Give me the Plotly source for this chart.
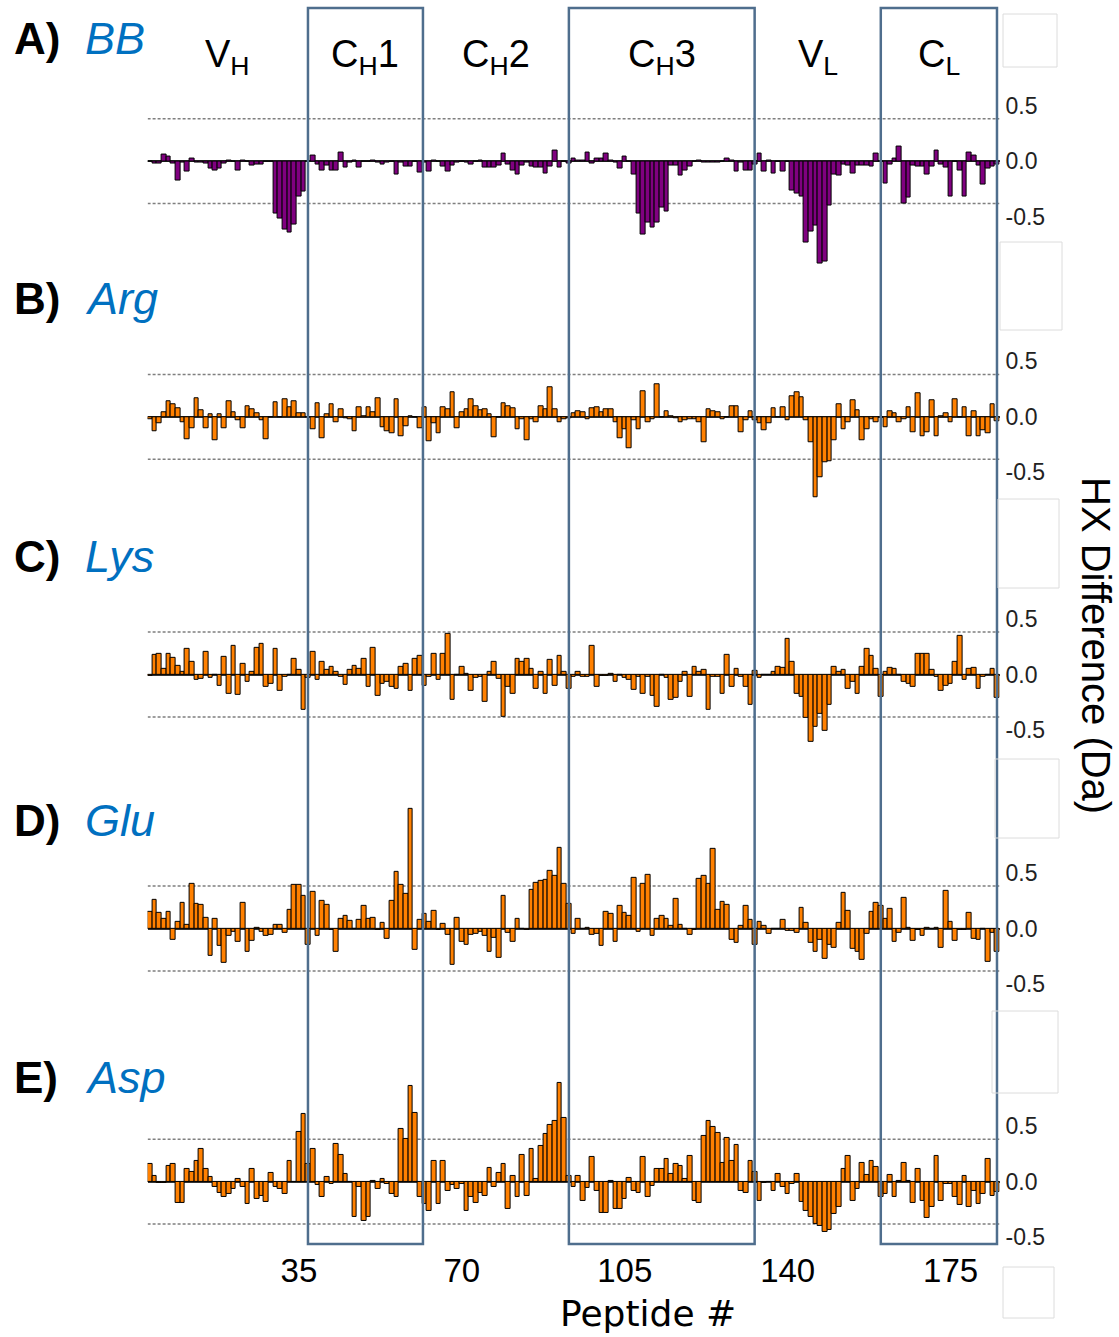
import plotly.graph_objects as go

# ---------------- data ----------------
FIRST_PEPTIDE = 3  # peptide number of the first bar; one value per peptide 3..185

BB = [
    0.0, -0.02, -0.02, 0.06, 0.04, -0.02, -0.17, -0.01, -0.09, 0.02,      # 3-12
    -0.01, -0.01, -0.02, -0.07, -0.08, -0.07, -0.02, 0.01, 0.0, -0.08,    # 13-22
    0.01, 0.0, -0.04, -0.03, -0.03, 0.0, 0.0, -0.47, -0.52, -0.62,        # 23-32
    -0.64, -0.57, -0.32, -0.27, 0.0, 0.05, -0.03, -0.08, -0.04, -0.08,    # 33-42
    -0.08, 0.075, -0.06, -0.01, 0.01, -0.06, 0.0, 0.0, 0.01, -0.01,       # 43-52
    -0.03, -0.01, 0.0, -0.12, -0.01, -0.05, -0.05, 0.0, -0.10, -0.01,     # 53-62
    -0.09, 0.01, 0.0, -0.05, -0.09, -0.04, -0.01, 0.0, -0.01, -0.03,      # 63-72
    0.0, 0.01, -0.06, -0.06, -0.06, -0.04, 0.07, -0.03, -0.08, -0.12,     # 73-82
    -0.04, -0.01, -0.05, -0.06, -0.06, -0.11, -0.05, 0.10, -0.06, 0.0,    # 83-92
    -0.02, 0.02, 0.01, 0.01, 0.08, -0.02, 0.02, 0.02, 0.07, 0.01,         # 93-102
    -0.01, -0.07, 0.04, 0.0, -0.12, -0.47, -0.66, -0.55, -0.60, -0.55,    # 103-112
    -0.42, -0.45, -0.04, -0.04, -0.13, -0.08, -0.05, 0.0, 0.01, -0.01,    # 113-122
    -0.01, -0.01, -0.01, 0.0, 0.02, 0.01, -0.09, -0.01, -0.08, -0.08,     # 123-132
    -0.03, 0.07, -0.09, 0.01, -0.11, 0.0, -0.09, 0.0, -0.26, -0.29,       # 133-142
    -0.32, -0.73, -0.63, -0.58, -0.92, -0.90, -0.40, -0.12, -0.13, -0.03, # 143-152
    -0.04, -0.11, -0.04, -0.04, -0.04, -0.05, 0.07, 0.0, -0.20, -0.03,    # 153-162
    0.02, 0.13, -0.38, -0.33, -0.04, -0.05, -0.05, -0.12, -0.05, 0.10,    # 163-172
    -0.03, -0.06, -0.32, 0.0, -0.08, -0.32, 0.08, 0.05, -0.04, -0.21,     # 173-182
    -0.07, -0.05, -0.03,                                                  # 183-185
]

ARG = [
    -0.02, -0.13, -0.06, 0.04, 0.14, 0.11, 0.08, -0.05, -0.20, -0.10,
    0.17, 0.06, -0.10, 0.02, -0.21, 0.02, -0.10, 0.14, 0.04, -0.03,
    -0.10, 0.10, 0.07, 0.03, -0.03, -0.20, 0.0, 0.13, 0.0, 0.16,
    0.09, 0.14, 0.03, 0.03, 0.0, -0.11, 0.12, -0.19, 0.02, 0.11,
    -0.05, 0.07, -0.01, -0.02, -0.13, 0.09, 0.01, 0.09, 0.04, 0.17,
    -0.09, -0.13, -0.15, 0.16, -0.17, -0.08, 0.01, 0.0, -0.10, 0.09,
    -0.22, -0.06, -0.15, 0.09, 0.07, 0.22, -0.10, 0.04, 0.07, 0.16,
    0.10, 0.06, 0.07, 0.02, -0.18, 0.0, 0.12, 0.10, 0.08, -0.11,
    -0.02, -0.21, -0.02, -0.05, 0.10, 0.07, 0.27, 0.07, -0.05, -0.02,
    -0.01, 0.03, 0.05, 0.04, -0.02, 0.08, 0.09, 0.04, 0.07, 0.07,
    -0.05, -0.19, -0.11, -0.28, -0.03, -0.11, 0.23, -0.05, -0.02, 0.29,
    0.0, 0.05, 0.01, -0.01, -0.05, -0.03, -0.02, -0.02, -0.05, -0.23,
    0.07, 0.05, 0.04, -0.02, 0.0, 0.10, 0.10, -0.14, -0.03, 0.05,
    -0.03, -0.06, -0.12, -0.06, 0.08, 0.0, 0.09, -0.03, 0.19, 0.22,
    0.18, -0.03, -0.23, -0.72, -0.54, -0.41, -0.40, -0.21, 0.11, -0.11,
    -0.05, 0.15, 0.06, -0.21, -0.11, -0.02, -0.05, 0.0, -0.09, 0.05,
    0.03, -0.05, -0.02, 0.09, -0.14, 0.21, -0.17, -0.14, 0.15, -0.17,
    0.01, 0.03, -0.05, 0.16, 0.0, 0.09, -0.17, 0.05, -0.17, -0.12,
    -0.15, 0.11, -0.04,
]

LYS = [
    -0.01, 0.18, 0.19, 0.05, 0.19, 0.15, 0.08, 0.02, 0.23, 0.11,
    -0.05, -0.04, 0.20, -0.03, 0.0, -0.10, 0.16, -0.17, 0.26, -0.18,
    0.10, -0.07, 0.02, 0.24, 0.28, -0.11, -0.08, 0.23, -0.15, -0.02,
    0.0, 0.14, 0.04, -0.32, -0.03, 0.20, -0.05, 0.11, 0.04, 0.07,
    0.02, -0.02, -0.09, 0.04, 0.08, 0.05, 0.14, -0.11, 0.24, -0.19,
    -0.08, -0.07, -0.11, -0.13, 0.07, 0.10, -0.15, 0.14, 0.17, -0.10,
    -0.02, 0.19, -0.05, 0.19, 0.37, -0.23, 0.0, 0.07, 0.01, -0.15,
    -0.03, -0.02, -0.25, 0.02, 0.11, -0.04, -0.38, -0.11, -0.17, 0.14,
    0.11, 0.14, 0.05, -0.13, 0.02, -0.17, 0.13, -0.10, 0.17, 0.02,
    -0.13, -0.02, 0.02, -0.02, -0.02, 0.26, -0.11, -0.01, -0.01, 0.01,
    -0.07, 0.0, -0.03, -0.05, -0.14, -0.02, -0.17, -0.02, -0.19, -0.29,
    0.0, -0.03, -0.23, -0.21, -0.07, 0.02, -0.20, 0.07, 0.02, 0.04,
    -0.32, -0.02, -0.02, -0.17, 0.18, -0.11, 0.05, -0.02, -0.11, -0.27,
    0.03, -0.03, 0.0, 0.0, 0.02, 0.07, 0.06, 0.32, 0.11, -0.17,
    -0.20, -0.39, -0.61, -0.47, -0.35, -0.51, -0.27, 0.07, 0.02, 0.04,
    -0.13, -0.07, -0.17, 0.07, 0.23, 0.17, 0.05, -0.20, 0.02, 0.06,
    0.05, 0.0, -0.07, -0.08, -0.11, 0.19, 0.19, 0.19, 0.04, -0.02,
    -0.15, -0.10, -0.08, 0.11, 0.35, -0.05, 0.05, 0.06, -0.13, -0.02,
    0.0, 0.05, -0.21,
]

GLU = [
    0.15, 0.26, 0.14, 0.09, 0.15, -0.10, 0.06, 0.23, 0.03, 0.40,
    0.22, 0.21, 0.10, -0.25, 0.09, -0.16, -0.31, -0.07, -0.03, -0.12,
    0.23, -0.21, -0.11, 0.01, -0.03, -0.07, -0.06, 0.03, 0.03, -0.04,
    0.17, 0.39, 0.39, 0.29, -0.15, 0.33, -0.07, 0.25, 0.21, -0.01,
    -0.21, 0.09, 0.11, 0.07, 0.0, 0.08, 0.20, 0.09, 0.10, -0.01,
    0.05, -0.09, 0.25, 0.51, 0.39, 0.31, 1.08, -0.19, 0.08, 0.13,
    0.06, 0.16, -0.01, 0.04, -0.06, -0.33, 0.10, -0.12, -0.15, -0.06,
    -0.05, -0.03, -0.07, -0.21, -0.08, -0.26, 0.29, -0.04, -0.12, 0.09,
    0.0, -0.01, 0.35, 0.41, 0.43, 0.44, 0.52, 0.47, 0.73, 0.40,
    0.22, -0.05, 0.09, 0.0, 0.01, -0.06, -0.05, -0.16, 0.15, 0.13,
    -0.12, 0.20, 0.14, 0.11, 0.46, -0.03, 0.40, 0.48, -0.07, 0.09,
    0.11, 0.09, 0.02, 0.27, 0.03, 0.0, -0.06, -0.01, 0.45, 0.47,
    0.40, 0.72, 0.17, 0.24, 0.21, -0.10, -0.13, 0.02, 0.20, 0.08,
    -0.15, 0.06, 0.02, -0.05, 0.0, 0.0, 0.08, -0.02, -0.02, -0.04,
    0.19, 0.05, -0.13, -0.21, -0.10, -0.27, -0.15, -0.17, 0.05, 0.32,
    0.16, -0.18, -0.21, -0.28, -0.05, 0.15, 0.23, 0.20, 0.09, 0.18,
    -0.12, -0.04, 0.28, 0.01, -0.11, -0.01, -0.07, 0.01, 0.0, 0.01,
    -0.17, 0.34, 0.06, -0.11, -0.01, -0.01, 0.14, -0.09, -0.10, 0.0,
    -0.30, -0.04, -0.21,
]

ASP = [
    0.16, 0.05, -0.01, -0.01, 0.14, 0.16, -0.19, -0.19, 0.11, 0.09,
    0.19, 0.29, 0.11, 0.04, -0.05, -0.10, -0.14, -0.11, -0.07, 0.02,
    -0.05, -0.20, 0.11, -0.16, -0.13, -0.18, 0.08, -0.05, -0.07, -0.11,
    0.19, 0.0, 0.45, 0.61, 0.16, 0.29, -0.03, -0.14, 0.04, -0.02,
    0.34, 0.24, 0.07, 0.0, -0.32, -0.05, -0.35, -0.32, 0.01, -0.07,
    0.02, -0.02, -0.11, -0.14, 0.47, 0.38, 0.86, 0.62, -0.14, -0.20,
    -0.26, 0.19, -0.20, 0.19, -0.08, -0.03, -0.07, -0.02, -0.26, -0.14,
    -0.19, -0.10, -0.13, 0.12, -0.05, 0.08, 0.16, -0.25, 0.05, -0.14,
    0.24, -0.13, 0.29, 0.02, 0.32, 0.43, 0.51, 0.55, 0.89, 0.57,
    0.05, -0.05, 0.05, -0.17, -0.06, 0.22, -0.08, -0.28, -0.28, 0.01,
    -0.25, -0.25, -0.16, 0.03, -0.08, -0.10, 0.22, -0.14, -0.04, 0.11,
    0.11, 0.20, 0.07, 0.16, 0.14, 0.02, 0.23, -0.17, -0.19, 0.41,
    0.55, 0.49, 0.44, 0.17, 0.39, 0.19, 0.33, -0.08, -0.10, 0.19,
    0.09, -0.17, -0.01, 0.0, -0.08, 0.07, -0.05, -0.11, -0.02, 0.07,
    -0.18, -0.26, -0.32, -0.38, -0.40, -0.45, -0.44, -0.29, -0.23, 0.11,
    0.23, -0.17, -0.07, 0.17, 0.06, 0.19, 0.13, -0.14, -0.11, 0.06,
    -0.14, 0.01, 0.17, 0.01, -0.19, 0.11, -0.17, -0.33, -0.23, 0.23,
    -0.17, -0.02, -0.02, -0.14, -0.21, 0.05, -0.23, -0.08, -0.20, -0.11,
    0.20, -0.13, -0.09,
]

PANEL_LETTERS = ["A)", "B)", "C)", "D)", "E)"]
PANEL_NAMES = ["BB", "Arg", "Lys", "Glu", "Asp"]
SERIES = [BB, ARG, LYS, GLU, ASP]

REGION_LABELS = ["V<sub>H</sub>", "C<sub>H</sub>1", "C<sub>H</sub>2",
                 "C<sub>H</sub>3", "V<sub>L</sub>", "C<sub>L</sub>"]
REGION_BOUNDS = [2.5, 36.95, 61.65, 93.0, 132.9, 160.0, 184.96]  # peptide #
BOXED_REGIONS = [1, 3, 5]

THRESHOLD = 0.382
Y_TICKS = [-0.5, 0.0, 0.5]
Y_TICKTEXT = ["-0.5", "0.0", "0.5"]
X_TICKS = [35, 70, 105, 140, 175]

# ---------------- layout constants ----------------
W, H = 1119, 1337
BAR_COLORS = ["#800080", "#FF8000", "#FF8000", "#FF8000", "#FF8000"]
BASE_PX = [161.2, 416.9, 674.5, 928.5, 1181.6]   # pixel row of 0.0 in each panel
LABEL_PX = [38, 298, 557, 820, 1077]              # pixel row of panel labels
PX_PER_UNIT = 111.0
Y_LO, Y_HI = -1.0, 1.15
X_LEFT_PX, X_RIGHT_PX = 147.6, 999.5
X_RANGE = [2.5, 185.5]
BOX_COLOR = "#4F6E8D"
LABEL_BLUE = "#0070C0"


def py(px):
    return 1 - px / H


fig = go.Figure()
layout = dict(
    width=W, height=H, margin=dict(l=0, r=0, t=0, b=0),
    paper_bgcolor="white", plot_bgcolor="rgba(0,0,0,0)",
    bargap=0, showlegend=False, hovermode=False,
    font=dict(family="Liberation Sans, Arial, sans-serif", color="black"),
)
shapes = []
annotations = []

for i, vals in enumerate(SERIES):
    n = i + 1
    xa = "x" if n == 1 else f"x{n}"
    ya = "y" if n == 1 else f"y{n}"
    peptides = list(range(FIRST_PEPTIDE, FIRST_PEPTIDE + len(vals)))
    fig.add_trace(go.Bar(
        x=peptides, y=vals, xaxis=xa, yaxis=ya,
        marker=dict(color=BAR_COLORS[i], line=dict(color="black", width=1)),
    ))
    base = BASE_PX[i]
    ydom = [py(base - Y_LO * PX_PER_UNIT), py(base - Y_HI * PX_PER_UNIT)]
    xax = dict(domain=[X_LEFT_PX / W, X_RIGHT_PX / W], range=X_RANGE,
               anchor=ya, showgrid=False, zeroline=False, showline=False,
               ticks="", showticklabels=False)
    if n == 5:
        xax.update(anchor="free", position=py(1248), showticklabels=True,
                   tickmode="array", tickvals=X_TICKS,
                   tickfont=dict(size=33, family="Liberation Sans"))
    layout["xaxis" if n == 1 else f"xaxis{n}"] = xax
    layout["yaxis" if n == 1 else f"yaxis{n}"] = dict(
        domain=ydom, range=[Y_LO, Y_HI], anchor=xa, side="right",
        tickmode="array", tickvals=Y_TICKS, ticktext=Y_TICKTEXT,
        tickfont=dict(size=23, family="Liberation Sans", color="#222"),
        ticks="", ticklabelstandoff=5,
        showgrid=False, showline=False,
        zeroline=True, zerolinecolor="#333333", zerolinewidth=1.5,
    )
    for yv in (THRESHOLD, -THRESHOLD):
        shapes.append(dict(type="line", xref=xa, yref=ya, x0=X_RANGE[0], x1=X_RANGE[1],
                           y0=yv, y1=yv, layer="below",
                           line=dict(color="#7f7f7f", width=1.5, dash="3px,2px")))
    # panel labels
    annotations.append(dict(text=PANEL_LETTERS[i], xref="paper", yref="paper",
                            x=12 / W, y=py(LABEL_PX[i]), xanchor="left", yanchor="middle",
                            showarrow=False,
                            font=dict(size=44, family="Liberation Sans", weight="bold",
                                      color="black")))
    annotations.append(dict(text=PANEL_NAMES[i], xref="paper", yref="paper",
                            x=83 / W, y=py(LABEL_PX[i]), xanchor="left", yanchor="middle",
                            showarrow=False,
                            font=dict(size=45, family="Liberation Sans", style="italic",
                                      color=LABEL_BLUE)))

# domain boxes
for k in BOXED_REGIONS:
    shapes.append(dict(type="rect", xref="x", yref="paper",
                       x0=REGION_BOUNDS[k], x1=REGION_BOUNDS[k + 1],
                       y0=py(1244), y1=py(8), layer="above",
                       line=dict(color=BOX_COLOR, width=2.5),
                       fillcolor="rgba(0,0,0,0)"))

# region labels
for k, lab in enumerate(REGION_LABELS):
    mid = 0.5 * (REGION_BOUNDS[k] + REGION_BOUNDS[k + 1])
    annotations.append(dict(text=lab, xref="x", yref="paper", x=mid, y=py(57),
                            xanchor="center", yanchor="middle", showarrow=False,
                            font=dict(size=38, family="Liberation Sans", color="black")))

# faint empty frames on the right edge (as in the reference)
for (x0, y0, x1, y1) in [(1003, 14, 1057, 67), (1000, 242, 1062, 330),
                         (998, 499, 1059, 588), (995, 759, 1059, 838),
                         (992, 1011, 1058, 1093), (1003, 1267, 1054, 1318)]:
    shapes.append(dict(type="rect", xref="paper", yref="paper",
                       x0=x0 / W, x1=x1 / W, y0=py(y1), y1=py(y0),
                       line=dict(color="#dcdcdc", width=1), fillcolor="rgba(0,0,0,0)"))

annotations.append(dict(text="HX Difference (Da)", xref="paper", yref="paper",
                        x=1096 / W, y=py(645), textangle=90, showarrow=False,
                        xanchor="center", yanchor="middle",
                        font=dict(size=40, family="Liberation Sans", color="black")))
annotations.append(dict(text="Peptide #", xref="paper", yref="paper",
                        x=648 / W, y=py(1313), showarrow=False,
                        xanchor="center", yanchor="middle",
                        font=dict(size=36, family="DejaVu Sans", color="black")))

layout["shapes"] = shapes
layout["annotations"] = annotations
fig.update_layout(**layout)
fig.write_html("out.html")
